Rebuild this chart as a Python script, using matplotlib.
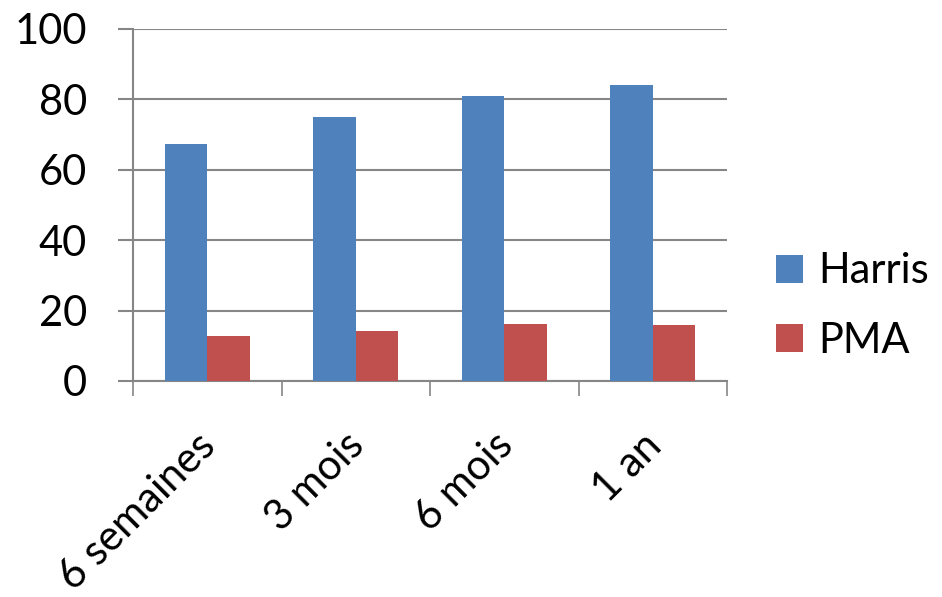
import matplotlib.pyplot as plt
import numpy as np

# suivi a 6 semaines, 3 mois, 6 mois et 1 an
periodes = ["6 semaines", "3 mois", "6 mois", "1 an"]
harris = [67.3, 75.1, 81.0, 84.1]
pma = [12.8, 14.2, 16.2, 15.9]

plt.rcParams['font.family'] = ['Lato', 'DejaVu Sans']

fig = plt.figure(figsize=(9.42, 5.97), dpi=100)
ax = fig.add_axes([133 / 942, 1 - 381 / 597, (727 - 133) / 942, (381 - 29) / 597])

x = np.arange(len(periodes))
w = 0.285
ax.bar(x - w / 2, harris, w, color="#4f81bd", label="Harris", zorder=3)
ax.bar(x + w / 2, pma, w, color="#c0504d", label="PMA", zorder=3)

ax.set_xlim(-0.5, len(periodes) - 0.5)
ax.set_ylim(0, 100)
ax.set_yticks(range(0, 101, 20))
ax.yaxis.grid(True, color="#868686", linewidth=1.5, zorder=0)

# graduations entre les categories
ax.set_xticks(np.arange(-0.5, len(periodes), 1.0))
ax.set_xticklabels([])
ax.tick_params(axis="x", length=11, width=1.2, color="#868686")
ax.tick_params(axis="y", length=11, width=1.5, color="#868686", labelsize=30, pad=22)

for i, p in enumerate(periodes):
    ax.text(i - 0.074, -12.8, p, rotation=45, ha="right", va="top",
            rotation_mode="anchor", fontsize=30)

for s in ["top", "right"]:
    ax.spines[s].set_visible(False)
for s in ["left", "bottom"]:
    ax.spines[s].set_color("#868686")
    ax.spines[s].set_linewidth(1.5)

leg = fig.legend(loc="center left", bbox_to_anchor=(776 / 942, 1 - 306 / 597),
                 frameon=False, fontsize=30, handlelength=0.65, handleheight=0.65,
                 handletextpad=0.36, labelspacing=0.75, borderpad=0,
                 borderaxespad=0)

fig.savefig("out.png", dpi=100)
